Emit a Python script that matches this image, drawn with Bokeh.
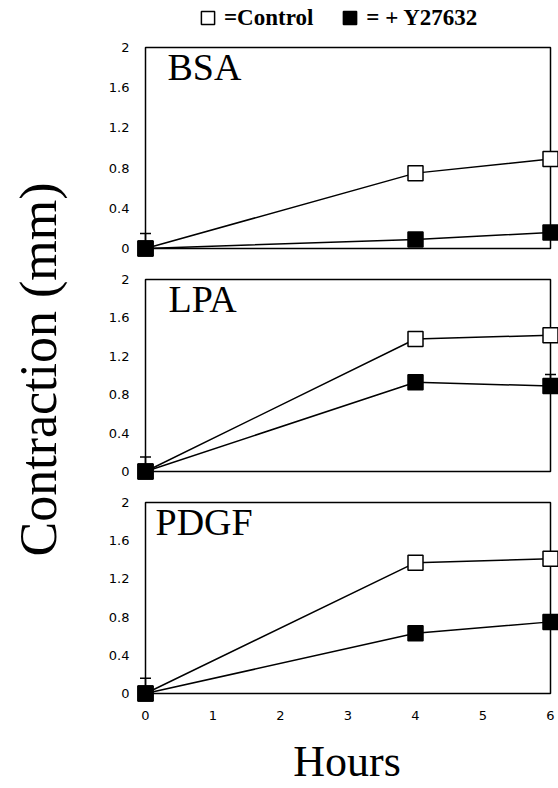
from bokeh.plotting import figure
from bokeh.models import (ColumnDataSource, Range1d, FixedTicker, BoxAnnotation,
                          Whisker, TeeHead, Label, Legend, LegendItem)
from bokeh.layouts import row, column
from bokeh.embed import file_html
from bokeh.resources import INLINE

# ---------------- data ----------------
HOURS = [0, 4, 6]

BSA_CONTROL = [0.0, 0.75, 0.89]
BSA_Y27632 = [0.0, 0.09, 0.16]
BSA_ERR = [0.15, 0.0, 0.0]

LPA_CONTROL = [0.0, 1.38, 1.42]
LPA_Y27632 = [0.0, 0.93, 0.89]
LPA_ERR = [0.15, 0.0, 0.12]

PDGF_CONTROL = [0.0, 1.37, 1.41]
PDGF_Y27632 = [0.0, 0.63, 0.75]
PDGF_ERR = [0.16, 0.0, 0.0]

PANEL_NAMES = ["BSA", "LPA", "PDGF"]
LEGEND_LABELS = ["=Control", "= + Y27632"]
X_LABEL = "Hours"
Y_LABEL = "Contraction (mm)"

X_MIN, X_MAX = 0, 6
Y_MIN, Y_MAX = 0, 2
X_TICKS = [0, 1, 2, 3, 4, 5, 6]
X_TICK_LABELS = ["0", "1", "2", "3", "4", "5", "6"]
Y_TICKS = [0, 0.4, 0.8, 1.2, 1.6, 2]
Y_TICK_LABELS = ["0", "0.4", "0.8", "1.2", "1.6", "2"]

# ---------------- layout (pixels) ----------------
LEFT_W = 80
BORDER_L = 55
FRAME_W = 423
PAD_L, PAD_R = 10, 8
# border_top, pad_top, inner_h, pad_bottom, border_bottom
# (first panel's frame reaches the top so the key above the box stays visible)
PANEL_PX = [(0, 47, 201, 10, 4), (15, 2, 192, 10, 5), (14, 2, 191, 10, 85)]
NAME_OFFSETS = [(22, -19), (23, -19), (10, -19)]
LEGEND_LOC = (56, 224)
TOTAL_H = sum(bt + pt + ih + pb + bb for bt, pt, ih, pb, bb in PANEL_PX)

SERIF = "Liberation Serif"
SANS = "DejaVu Sans"
TICK_SIZE = "13px"

ppx = (FRAME_W - PAD_L - PAD_R) / (X_MAX - X_MIN)
x_range = Range1d(X_MIN - PAD_L / ppx, X_MAX + PAD_R / ppx)

panel_data = [
    (BSA_CONTROL, BSA_Y27632, BSA_ERR),
    (LPA_CONTROL, LPA_Y27632, LPA_ERR),
    (PDGF_CONTROL, PDGF_Y27632, PDGF_ERR),
]

CTRL_STYLE = dict(marker="square", size=15, fill_color="white", line_color="black", line_width=1.5)
Y27_STYLE = dict(marker="square", size=15, fill_color="black", line_color="black", line_width=1.5)


def style_axis(ax, ticks, labels, standoff):
    ax.ticker = FixedTicker(ticks=ticks)
    ax.major_label_overrides = dict(zip(ticks, labels))
    ax.axis_line_color = None
    ax.major_tick_line_color = None
    ax.minor_tick_line_color = None
    ax.major_tick_out = 0
    ax.major_tick_in = 0
    ax.major_label_standoff = standoff
    ax.major_label_text_font = SANS
    ax.major_label_text_font_size = TICK_SIZE
    ax.major_label_text_color = "black"


figs = []
for i, (name, (ctrl, y27, err)) in enumerate(zip(PANEL_NAMES, panel_data)):
    bt, pt, ih, pb, bb = PANEL_PX[i]
    ppu = ih / (Y_MAX - Y_MIN)
    last = i == len(PANEL_NAMES) - 1
    p = figure(frame_width=FRAME_W, frame_height=pt + ih + pb,
               x_range=x_range, y_range=Range1d(Y_MIN - pb / ppu, Y_MAX + pt / ppu),
               min_border_left=BORDER_L, min_border_right=0,
               min_border_top=bt, min_border_bottom=bb,
               x_axis_location="below" if last else None, y_axis_location="left",
               output_backend="svg", toolbar_location=None)
    p.outline_line_color = None
    p.grid.visible = False
    p.background_fill_color = "white"
    p.border_fill_color = "white"

    style_axis(p.yaxis[0], Y_TICKS, Y_TICK_LABELS, 6)

    if last:
        xa = p.xaxis[0]
        style_axis(xa, X_TICKS, X_TICK_LABELS, 7)
        xa.axis_label = X_LABEL
        xa.axis_label_text_font = SERIF
        xa.axis_label_text_font_style = "normal"
        xa.axis_label_text_font_size = "44px"
        xa.axis_label_text_color = "black"
        xa.axis_label_standoff = 14

    p.add_layout(BoxAnnotation(left=X_MIN, right=X_MAX, bottom=Y_MIN, top=Y_MAX,
                               fill_color=None, fill_alpha=0, line_color="black",
                               line_alpha=1, line_width=1.5, level="underlay"))

    p.line(HOURS, ctrl, line_color="black", line_width=1.5)
    p.line(HOURS, y27, line_color="black", line_width=1.5)

    wx = [h for h, e in zip(HOURS, err) if e > 0]
    wl = [v for v, e in zip(y27, err) if e > 0]
    wu = [v + e for v, e in zip(y27, err) if e > 0]
    wsrc = ColumnDataSource(dict(x=wx, lower=wl, upper=wu))
    p.add_layout(Whisker(source=wsrc, base="x", lower="lower", upper="upper",
                         dimension="height", line_color="black", line_width=1.5,
                         upper_head=TeeHead(size=11, line_color="black", line_width=1.5),
                         lower_head=None, level="underlay"))

    r_ctrl = p.scatter(HOURS, ctrl, **CTRL_STYLE)
    r_y27 = p.scatter(HOURS, y27, **Y27_STYLE)

    dx, dy = NAME_OFFSETS[i]
    p.add_layout(Label(x=X_MIN, y=Y_MAX, x_offset=dx, y_offset=dy, text=name,
                       text_font=SERIF, text_font_size="38px", text_color="black",
                       text_align="left", text_baseline="alphabetic"))

    if i == 0:
        legend = Legend(items=[LegendItem(label=LEGEND_LABELS[0], renderers=[r_ctrl]),
                               LegendItem(label=LEGEND_LABELS[1], renderers=[r_y27])],
                        orientation="horizontal", location=LEGEND_LOC,
                        glyph_width=33, glyph_height=33, label_standoff=0,
                        spacing=20, padding=0, margin=0,
                        border_line_color=None, background_fill_alpha=0,
                        label_text_font=SERIF, label_text_font_style="bold",
                        label_text_font_size="23px", label_text_color="black")
        p.add_layout(legend)
    figs.append(p)

# ---------------- left strip carrying the shared y-axis title ----------------
lab = figure(width=LEFT_W, height=TOTAL_H, x_range=Range1d(0, 1), y_range=Range1d(0, 1),
             min_border_left=66, min_border_right=0, min_border_top=0, min_border_bottom=50,
             x_axis_location=None, y_axis_location="left",
             output_backend="svg", toolbar_location=None)
lab.outline_line_color = None
lab.grid.visible = False
la = lab.yaxis[0]
la.ticker = FixedTicker(ticks=[])
la.axis_line_color = None
la.major_tick_line_color = None
la.minor_tick_line_color = None
la.major_tick_out = 0
la.major_label_standoff = 0
la.axis_label = Y_LABEL
la.axis_label_standoff = 0
la.axis_label_text_font = SERIF
la.axis_label_text_font_style = "normal"
la.axis_label_text_font_size = "52px"
la.axis_label_text_color = "black"

layout = row(lab, column(*figs, spacing=0), spacing=0)
open("out.html", "w").write(file_html(layout, INLINE))
